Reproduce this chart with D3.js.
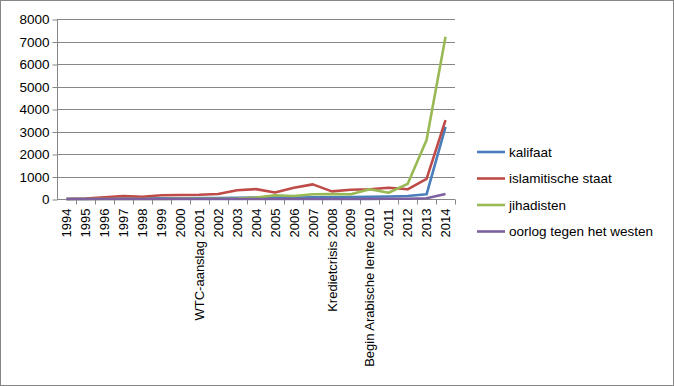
<!DOCTYPE html>
<html>
<head>
<meta charset="utf-8">
<script src="https://cdn.jsdelivr.net/npm/d3@7"></script>
<style>
  body { margin: 0; background: #fff; }
  svg text { font-family: 'Liberation Sans', Arial, sans-serif; }
</style>
</head>
<body>
<div id="chart"></div>
<script>
const years = ['1994', '1995', '1996', '1997', '1998', '1999', '2000', 'WTC-aanslag 2001', '2002', '2003',
  '2004', '2005', '2006', '2007', 'Kredietcrisis 2008', '2009', 'Begin Arabische lente 2010', '2011', '2012', '2013', '2014']

const kalifaat = [0, 0, 10, 20, 20, 30, 30, 40, 40, 50, 60, 70, 70, 80, 80, 90, 100, 110, 130, 210, 3210]
const islamitischeStaat = [0, 20, 80, 130, 100, 170, 180, 190, 220, 390, 440, 290, 500, 650, 340, 410, 430, 500, 430, 890, 3510]
const jihadisten = [0, 0, 0, 0, 0, 0, 10, 10, 10, 20, 60, 170, 130, 210, 220, 210, 430, 280, 670, 2620, 7210]
const oorlog = [0, 0, 0, 0, 0, 0, 0, 0, 0, 0, 0, 0, 0, 0, 0, 0, 0, 10, 10, 30, 220]

const seriesNames = ['kalifaat', 'islamitische staat', 'jihadisten', 'oorlog tegen het westen']
const seriesValues = [kalifaat, islamitischeStaat, jihadisten, oorlog]
const colors = ['#4a7ebb', '#be4b48', '#98b954', '#7d60a0']
const yTicks = [0, 1000, 2000, 3000, 4000, 5000, 6000, 7000, 8000]

const margin = { top: 19, right: 219, bottom: 187, left: 57 }
const width = 674 - margin.left - margin.right
const height = 386 - margin.top - margin.bottom

const root = d3.select('#chart')
  .append('svg')
  .attr('width', 674)
  .attr('height', 386)

root.append('rect')
  .attr('x', 0.5)
  .attr('y', 0.5)
  .attr('width', 673)
  .attr('height', 385)
  .attr('fill', '#fff')
  .attr('stroke', '#868686')

const svg = root.append('g')
  .attr('transform', 'translate(' + margin.left + ',' + margin.top + ')')

const x = d3.scaleBand()
  .domain(years)
  .range([0, width])

const y = d3.scaleLinear()
  .domain([0, 8000])
  .range([height, 0])

// gridlines
svg.selectAll('.grid')
  .data(yTicks.slice(1))
  .enter()
  .append('line')
  .attr('class', 'grid')
  .attr('x1', 0)
  .attr('x2', width)
  .attr('y1', d => Math.round(y(d)) + 0.5)
  .attr('y2', d => Math.round(y(d)) + 0.5)
  .attr('stroke', '#868686')

// y axis
const yAxis = svg.append('g')
  .attr('transform', 'translate(0.5,0.5)')
  .call(d3.axisLeft(y).tickValues(yTicks).tickSize(5).tickPadding(3).tickFormat(d3.format('d')))
yAxis.selectAll('path, line').attr('stroke', '#868686')
yAxis.selectAll('text').attr('font-size', 13.5).attr('fill', '#000')
yAxis.select('.domain').attr('d', 'M0,0V' + height)

// x axis, ticks on band edges
const xAxis = svg.append('g')
  .attr('transform', 'translate(0,' + (height + 0.5) + ')')
xAxis.append('line')
  .attr('x1', 0)
  .attr('x2', width)
  .attr('stroke', '#868686')
xAxis.selectAll('.tick')
  .data(years)
  .enter()
  .append('line')
  .attr('x1', d => Math.round(x(d) + x.bandwidth()) + 0.5)
  .attr('x2', d => Math.round(x(d) + x.bandwidth()) + 0.5)
  .attr('y1', 0)
  .attr('y2', 5)
  .attr('stroke', '#868686')
xAxis.selectAll('.label')
  .data(years)
  .enter()
  .append('text')
  .attr('transform', d => 'translate(' + (x(d) + x.bandwidth() / 2 + 4.7) + ',9) rotate(-90)')
  .attr('text-anchor', 'end')
  .attr('font-size', 13)
  .attr('fill', '#000')
  .text(d => d)

// lines
const line = d3.line()
  .x((d, i) => x(years[i]) + x.bandwidth() / 2)
  .y(d => y(d))

svg.selectAll('.series')
  .data(seriesValues)
  .enter()
  .append('path')
  .attr('class', 'series')
  .attr('d', d => line(d))
  .attr('fill', 'none')
  .attr('stroke', (d, i) => colors[i])
  .attr('stroke-width', 2.6)
  .attr('stroke-linejoin', 'round')

// legend
const legend = root.append('g')
  .attr('transform', 'translate(477,152)')

const item = legend.selectAll('.item')
  .data(seriesNames)
  .enter()
  .append('g')
  .attr('transform', (d, i) => 'translate(0,' + i * 26.5 + ')')

item.append('line')
  .attr('x1', 0)
  .attr('x2', 28)
  .attr('stroke', (d, i) => colors[i])
  .attr('stroke-width', 2.6)

item.append('text')
  .attr('x', 32)
  .attr('dy', '0.35em')
  .attr('font-size', 13.5)
  .attr('fill', '#000')
  .text(d => d)
</script>
</body>
</html>
